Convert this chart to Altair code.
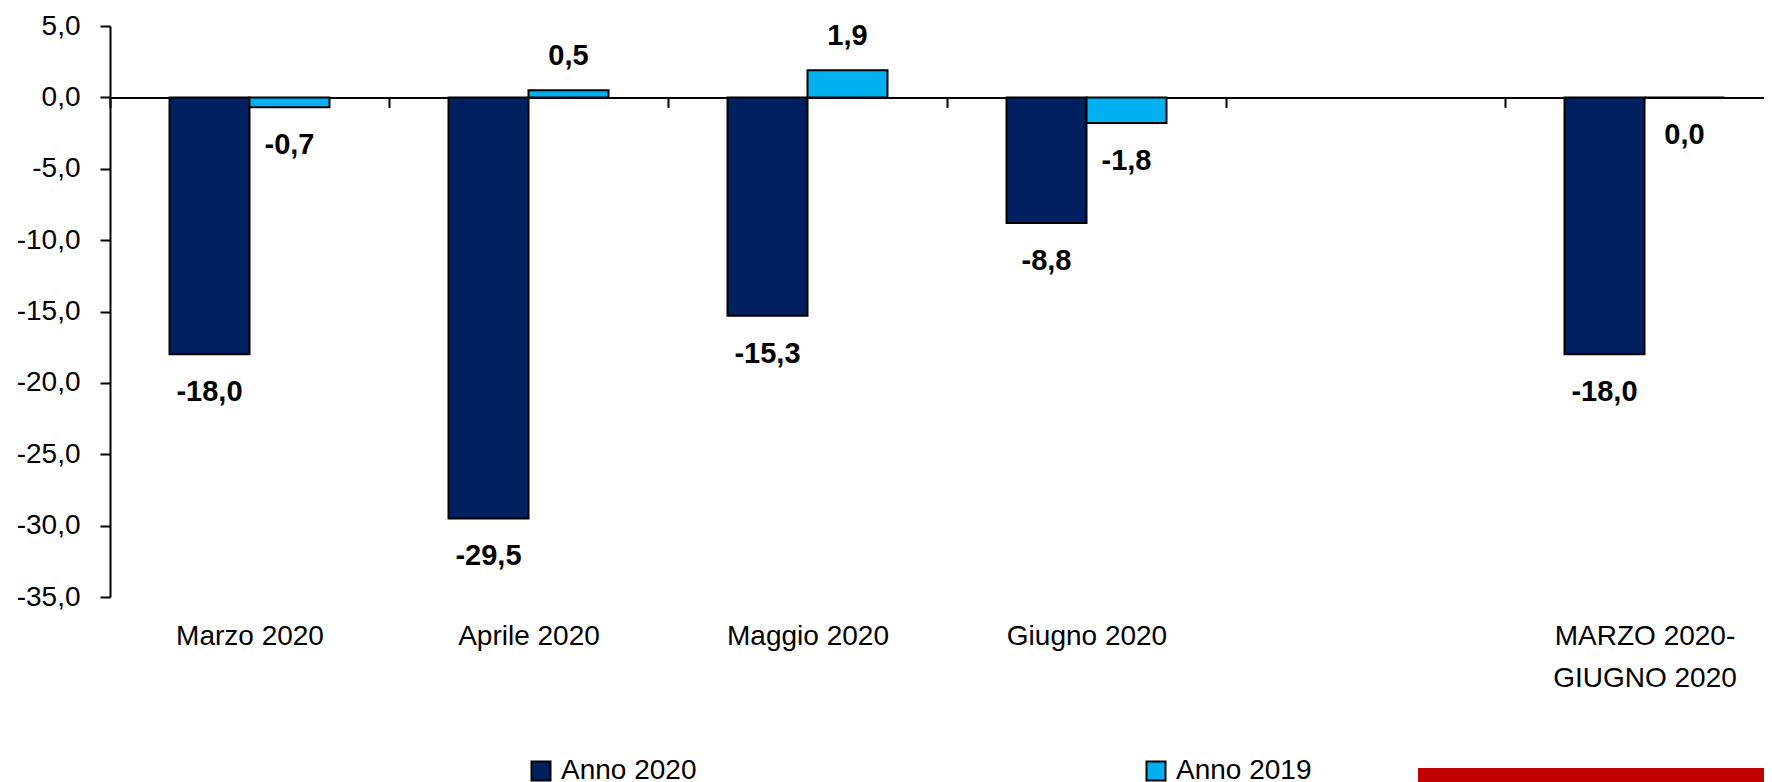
import altair as alt
import pandas as pd

categories = ["Marzo 2020", "Aprile 2020", "Maggio 2020", "Giugno 2020", " ", "MARZO 2020-GIUGNO 2020"]
bar_categories = ["Marzo 2020", "Aprile 2020", "Maggio 2020", "Giugno 2020", "MARZO 2020-GIUGNO 2020"]
series = ["Anno 2020", "Anno 2019"]
anno_2020 = [-18.0, -29.5, -15.3, -8.8, -18.0]
anno_2019 = [-0.7, 0.5, 1.9, -1.8, 0.0]
y_ticks = [5, 0, -5, -10, -15, -20, -25, -30, -35]
colors = ["#002060", "#00B0F0"]

FONT = "Liberation Sans, Arial, sans-serif"

rows = []
for c, a, b in zip(bar_categories, anno_2020, anno_2019):
    rows.append(dict(cat=c, serie=series[0], val=a))
    rows.append(dict(cat=c, serie=series[1], val=b))
df = pd.DataFrame(rows)
df["lab"] = df["val"].map(lambda v: f"{v:.1f}".replace(".", ","))

W, H = 1654, 571
x_scale = alt.Scale(domain=categories, range=[0, 1674], paddingInner=0, paddingOuter=0)
xo_scale = alt.Scale(domain=series, paddingInner=0, paddingOuter=0.744)
y_scale = alt.Scale(domain=[-35, 5], nice=False, zero=False)

zero_off = -(H - H * 5 / 40)

x_enc = alt.X(
    "cat:N", sort=categories, scale=x_scale,
    axis=alt.Axis(
        title=None, orient="bottom", offset=zero_off, domainColor="black", domainWidth=2,
        tickColor="black", tickWidth=2, tickSize=10, tickBand="extent", labelAngle=0,
        labelFont=FONT, labelFontSize=28, labelColor="black", labelPadding=515,
        labelLimit=600, labelBaseline="top", labelLineHeight=42,
        labelExpr="split(replace(datum.label, '-', '-|'), '|')",
    ),
)
y_enc = alt.Y(
    "val:Q", scale=y_scale,
    axis=alt.Axis(
        title=None, values=y_ticks, grid=False, domainColor="black", domainWidth=2,
        tickColor="black", tickWidth=2, tickSize=10, labelPadding=20,
        labelFont=FONT, labelFontSize=28, labelColor="black",
        labelExpr="replace(replace(format(datum.value, '.1f'), '.', ','), '\u2212', '-')",
    ),
)
xo_enc = alt.XOffset("serie:N", sort=series, scale=xo_scale)

base = alt.Chart(df)

bars = base.mark_bar(stroke="black", strokeWidth=2).encode(
    x=x_enc, xOffset=xo_enc, y=y_enc,
    color=alt.Color(
        "serie:N", sort=series, scale=alt.Scale(domain=series, range=colors),
        legend=alt.Legend(
            title=None, orient="none", legendX=417, legendY=731, direction="horizontal",
            columns=2, columnPadding=445, symbolType="square", symbolSize=361,
            symbolStrokeColor="black", symbolStrokeWidth=2, labelOffset=6,
            labelFont=FONT, labelFontSize=28, labelColor="black", labelLimit=400,
        ),
    ),
)

txt_pos = base.transform_filter("datum.val > 0").mark_text(
    dy=-34, font=FONT, fontSize=29, fontWeight="bold", color="black", baseline="middle"
).encode(x=x_enc, xOffset=xo_enc, y=y_enc, text="lab:N")

txt_neg = base.transform_filter("datum.val <= 0").mark_text(
    dy=38, font=FONT, fontSize=29, fontWeight="bold", color="black", baseline="middle"
).encode(x=x_enc, xOffset=xo_enc, y=y_enc, text="lab:N")

red_bar = alt.Chart(pd.DataFrame({"k": [0]})).mark_rect(color="#C00000").encode(
    x=alt.value(1308), x2=alt.value(1700), y=alt.value(742), y2=alt.value(775)
)

chart = alt.layer(bars, txt_pos, txt_neg, red_bar).properties(
    width=W, height=H,
    autosize=alt.AutoSizeParams(type="none"),
    padding={"left": 102, "top": 18, "right": 0, "bottom": 186},
).configure_view(stroke=None)

chart.save("out.html", embed_options={"renderer": "svg", "actions": False})
